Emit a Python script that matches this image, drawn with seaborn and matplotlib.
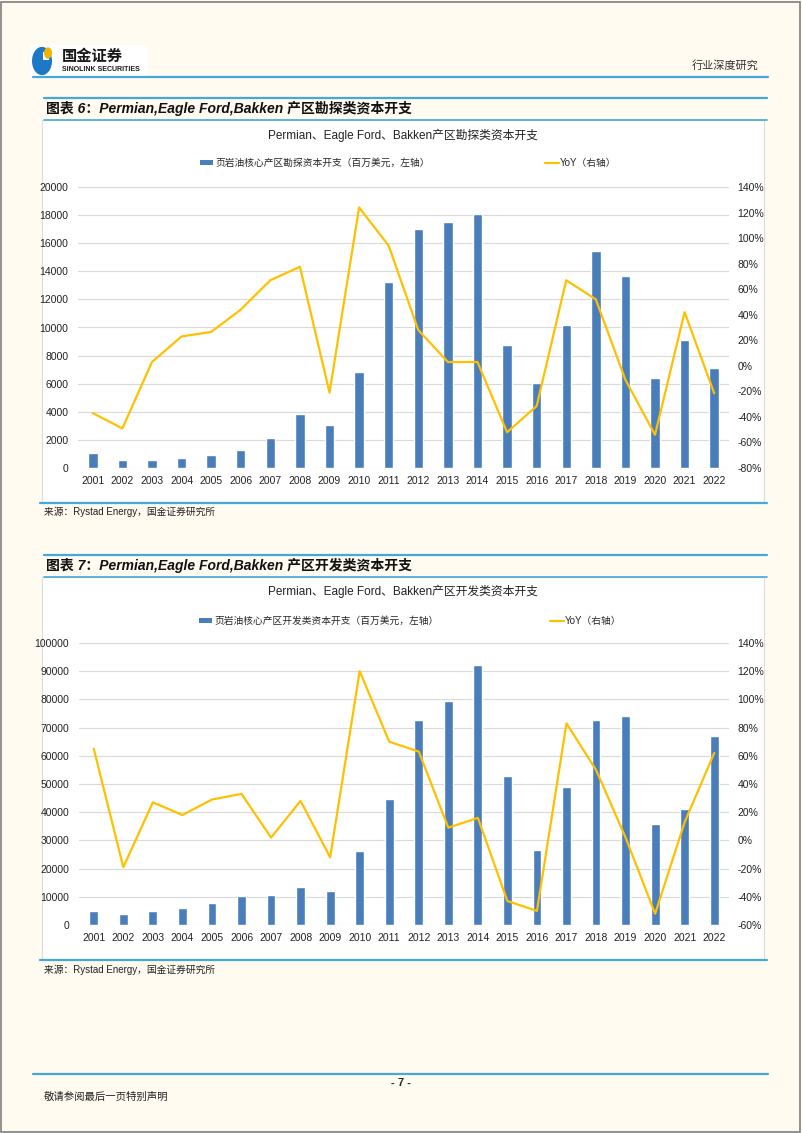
import numpy as np
import pandas as pd
import matplotlib
matplotlib.use("Agg")
import matplotlib.pyplot as plt
from matplotlib.patches import Rectangle, Circle
from matplotlib.lines import Line2D
from matplotlib.ticker import FuncFormatter, MultipleLocator
import seaborn as sns

# ---------------- data ----------------
years = [str(y) for y in range(2001, 2023)]
explore_capex = [1100, 550, 550, 700, 900, 1300, 2150, 3850, 3050, 6800, 13250,
                 17000, 17500, 18100, 8750, 6050, 10150, 15450, 13650, 6400, 9100, 7150]
explore_yoy = [-37, -49, 3, 23, 26.5, 44, 67, 77.5, -21, 124, 94,
               28, 3, 3, -52, -31.5, 67, 52, -11, -54, 42, -21.5]
develop_capex = [5000, 4000, 5100, 5900, 7800, 10200, 10500, 13500, 11900, 26100, 44800,
                 72800, 79300, 92200, 53000, 26500, 48800, 72800, 74000, 35900, 41300, 66900]
develop_yoy = [65, -19, 27, 18, 29, 33, 2, 28, -12, 120, 70,
               63, 9, 16, -43, -50, 83, 50, 2, -52, 13, 62]

chart1_title = "Permian、Eagle Ford、Bakken产区勘探类资本开支"
chart2_title = "Permian、Eagle Ford、Bakken产区开发类资本开支"
legend1_bar = "页岩油核心产区勘探资本开支（百万美元，左轴）"
legend2_bar = "页岩油核心产区开发类资本开支（百万美元，左轴）"
legend_line = "YoY（右轴）"
section1 = "图表 6：Permian,Eagle Ford,Bakken 产区勘探类资本开支"
section2 = "图表 7：Permian,Eagle Ford,Bakken 产区开发类资本开支"
source_text = "来源：Rystad Energy，国金证券研究所"

# ---------------- style ----------------
sns.set_theme(style="white")
plt.rcParams["font.family"] = ["Liberation Sans", "Noto Sans CJK SC", "DejaVu Sans"]
plt.rcParams["axes.unicode_minus"] = False

W, H = 802, 1133
BAR = "#4A7EBB"
LINE = "#FFC000"
BLUE_RULE = "#45A7DC"
PAGE = "#FFFBF0"
MIXED = ["Liberation Sans", "Noto Sans CJK SC"]


def fx(x):
    return x / W


def fy(y):
    return 1 - y / H


fig = plt.figure(figsize=(W / 100, H / 100), dpi=100)
fig.patch.set_facecolor(PAGE)


def hline(y, x0, x1, color=BLUE_RULE, lw=1.6):
    fig.add_artist(Line2D([fx(x0), fx(x1)], [fy(y), fy(y)], color=color, lw=lw,
                          transform=fig.transFigure))


# page border
fig.add_artist(Rectangle((0.001, 0.001), 0.997, 0.997, transform=fig.transFigure,
                         fill=False, edgecolor="#7F7F7F", lw=1.2))

# header logo
fig.add_artist(Rectangle((fx(30), fy(76)), 118 / W, 31 / H, transform=fig.transFigure,
                         facecolor="white", edgecolor="none"))
fig.add_artist(Circle((fx(42), fy(61)), 10 / W, transform=fig.transFigure,
                      facecolor="#1E78C8", edgecolor="none"))
fig.add_artist(Rectangle((fx(43), fy(60)), 6 / W, 8 / H, transform=fig.transFigure,
                         facecolor="white", edgecolor="none"))
fig.add_artist(Circle((fx(48), fy(53)), 4 / W, transform=fig.transFigure,
                      facecolor="#F0B400", edgecolor="none"))
fig.text(fx(62), fy(56), "国金证券", fontsize=11, fontweight="bold", color="#1A1A1A",
         family=["Noto Sans CJK SC"], va="center", ha="left")
fig.text(fx(62), fy(69.5), "SINOLINK SECURITIES", fontsize=5, fontweight="bold",
         color="#1A1A1A", va="center", ha="left")
fig.text(fx(758), fy(65), "行业深度研究", fontsize=8, color="#333333",
         family=["Noto Sans CJK SC"], va="center", ha="right")
hline(77, 33, 768)

# footer
hline(1074, 33, 768)
fig.text(fx(401), fy(1083), "- 7 -", fontsize=8, fontweight="bold", ha="center", va="center")
fig.text(fx(44), fy(1097), "敬请参阅最后一页特别声明", fontsize=7.5, color="#222222",
         family=["Noto Sans CJK SC"], ha="left", va="center")


def draw_chart(box_top, box_bottom, sec_y, ax_rect, capex, yoy, left_max, left_step,
               right_min, right_max, title, title_y, bar_label, leg_y, bar_leg_x, line_leg_x,
               bar_width, source_y, section_text, top_rule):
    # section header
    hline(top_rule, 44, 767)
    fig.text(fx(46), fy(sec_y), section_text, fontsize=10, fontweight="bold",
             style="italic", family=MIXED, ha="left", va="center", color="#111111")
    hline(box_top, 44, 767, lw=1.2)
    # white chart box
    fig.add_artist(Rectangle((fx(42), fy(box_bottom)), (764 - 42) / W,
                             (box_bottom - box_top) / H, transform=fig.transFigure,
                             facecolor="white", edgecolor="#DCDCDC", lw=0.8, zorder=0))
    hline(box_bottom + 1, 40, 767, lw=1.6)
    fig.text(fx(44), fy(source_y), source_text, fontsize=7, color="#222222",
             family=MIXED, ha="left", va="center")

    df = pd.DataFrame({"year": years, "capex": capex, "yoy": yoy})
    ax = fig.add_axes(ax_rect)
    ax.set_facecolor("none")
    sns.barplot(data=df, x="year", y="capex", color=BAR, saturation=1,
                width=bar_width, ax=ax, zorder=3)
    ax.set_xlim(-0.5, len(years) - 0.5)
    ax.set_ylim(0, left_max)
    ax.yaxis.set_major_locator(MultipleLocator(left_step))
    ax.grid(axis="y", color="#D9D9D9", lw=0.8, zorder=0)
    ax.set_axisbelow(True)
    for s in ax.spines.values():
        s.set_visible(False)
    ax.set_xlabel("")
    ax.set_ylabel("")
    ax.tick_params(axis="both", length=0, labelsize=7.5, colors="#222222")
    ax.tick_params(axis="x", pad=6)
    ax.tick_params(axis="y", pad=7)

    ax2 = ax.twinx()
    sns.lineplot(x=np.arange(len(years)), y=df["yoy"].values, color=LINE, lw=1.6,
                 ax=ax2, zorder=4)
    ax2.set_xlim(-0.5, len(years) - 0.5)
    ax2.set_ylim(right_min, right_max)
    ax2.yaxis.set_major_locator(MultipleLocator(20))
    ax2.yaxis.set_major_formatter(FuncFormatter(lambda v, p: f"{v:.0f}%"))
    for s in ax2.spines.values():
        s.set_visible(False)
    ax2.set_ylabel("")
    ax2.tick_params(axis="y", length=0, labelsize=7.5, colors="#222222", pad=6)
    ax2.grid(False)

    # chart title
    fig.text(fx(403), fy(title_y), title, fontsize=8.5, color="#222222",
             ha="center", va="center")
    # legends
    bar_handle = Rectangle((0, 0), 1, 1, facecolor=BAR, edgecolor="none")
    line_handle = Line2D([0], [0], color=LINE, lw=1.6)
    fig.legend([bar_handle], [bar_label], loc="center left",
               bbox_to_anchor=(fx(bar_leg_x), fy(leg_y)), frameon=False,
               handlelength=1.3, handleheight=0.45, handletextpad=0.3,
               borderpad=0, borderaxespad=0,
               prop={"family": ["Noto Sans CJK SC"], "size": 7})
    fig.legend([line_handle], [legend_line], loc="center left",
               bbox_to_anchor=(fx(line_leg_x), fy(leg_y)), frameon=False,
               handlelength=1.4, handletextpad=0.15,
               borderpad=0, borderaxespad=0,
               prop={"family": MIXED, "size": 7})
    return ax, ax2


draw_chart(box_top=120, box_bottom=502, sec_y=108,
           ax_rect=[fx(78), fy(468), (729 - 78) / W, (468 - 187) / H],
           capex=explore_capex, yoy=explore_yoy, left_max=20000, left_step=2000,
           right_min=-80, right_max=140, title=chart1_title, title_y=135,
           bar_label=legend1_bar, leg_y=163, bar_leg_x=200, line_leg_x=545,
           bar_width=0.32, source_y=512, section_text=section1, top_rule=98)

draw_chart(box_top=577, box_bottom=959, sec_y=565,
           ax_rect=[fx(79), fy(925), (729 - 79) / W, (925 - 643) / H],
           capex=develop_capex, yoy=develop_yoy, left_max=100000, left_step=10000,
           right_min=-60, right_max=140, title=chart2_title, title_y=591,
           bar_label=legend2_bar, leg_y=621, bar_leg_x=199, line_leg_x=550,
           bar_width=0.3, source_y=970, section_text=section2, top_rule=555)

fig.savefig("out.png", dpi=100, facecolor=fig.get_facecolor())
